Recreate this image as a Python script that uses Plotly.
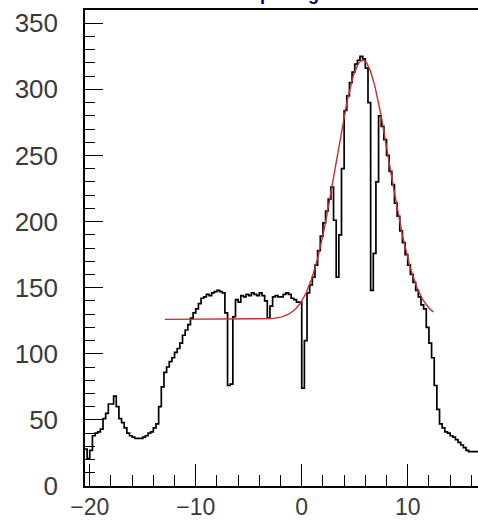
import numpy as np
import plotly.graph_objects as go

# Histogram: fixed-width bins starting at the low edge
bin_low = -20.5
bin_width = 0.25
counts = [
    28, 21, 27, 38, 40, 41, 43, 51, 55, 62,
    62, 68, 60, 51, 48, 44, 40, 38, 37, 36,
    36, 36, 37, 38, 40, 41, 44, 47, 60, 75,
    86, 90, 94, 97, 101, 104, 108, 114, 118, 122,
    127, 131, 134, 138, 142, 143, 145, 144, 146, 147,
    148, 147, 146, 131, 76, 77, 128, 141, 139, 144,
    143, 145, 144, 146, 145, 144, 146, 144, 140, 127,
    136, 143, 144, 143, 143, 145, 146, 145, 142, 141,
    139, 139, 74, 110, 146, 152, 158, 167, 178, 189,
    199, 208, 217, 226, 201, 158, 190, 240, 284, 295,
    305, 313, 319, 322, 325, 323, 316, 290, 148, 176,
    230, 280, 272, 262, 250, 238, 228, 214, 204, 193,
    184, 175, 167, 160, 154, 148, 143, 137, 134, 120,
    108, 97, 76, 58, 47, 44, 41, 40, 38, 37,
    35, 33, 31, 29, 27, 26, 26, 26, 26,
]

# Fit: gaus + pol0
fit_const = 126.0
fit_amp = 196.0
fit_mean = 5.75
fit_sigma = 2.5
fit_range = (-12.9, 12.4)

title_text = "Input signal"

edges = [bin_low + bin_width * i for i in range(len(counts) + 1)]
step_y = counts + [counts[-1]]

fx = np.linspace(fit_range[0], fit_range[1], 400)
fy = fit_const + fit_amp * np.exp(-0.5 * ((fx - fit_mean) / fit_sigma) ** 2)

fig = go.Figure()
fig.add_trace(go.Scatter(
    x=edges, y=step_y, mode="lines", line_shape="hv",
    line=dict(color="black", width=1.7), showlegend=False, hoverinfo="skip",
))
fig.add_trace(go.Scatter(
    x=fx, y=fy, mode="lines",
    line=dict(color="#c03030", width=1.4), showlegend=False, hoverinfo="skip",
))

y_tick_font = dict(family="Liberation Sans", size=26, color="#3a3a3a")
x_tick_font = dict(family="Liberation Sans", size=23, color="#3a3a3a")

fig.update_layout(
    width=478, height=520,
    margin=dict(l=85, r=0, t=10, b=34),
    paper_bgcolor="white", plot_bgcolor="white",
    showlegend=False,
    annotations=[dict(
        text=title_text, xref="paper", yref="paper", x=0.534, y=1,
        xanchor="center", yanchor="bottom", yshift=4, showarrow=False,
        font=dict(family="Liberation Sans", size=18, color="#00007a", weight="bold"),
    )],
)
fig.update_xaxes(
    range=[-20.45, 16.63], showgrid=False, zeroline=False,
    showline=True, linecolor="black", linewidth=1.5, mirror=True,
    ticks="inside", ticklen=22, tickwidth=1.3, tickcolor="black",
    tickmode="linear", tick0=-20, dtick=10,
    minor=dict(ticks="inside", ticklen=11, tickwidth=1.3, tickcolor="black",
               tickmode="linear", tick0=-20, dtick=2),
    tickfont=x_tick_font, ticklabelstandoff=0, automargin=False,
)
fig.update_yaxes(
    range=[0, 360], showgrid=False, zeroline=False,
    showline=True, linecolor="black", linewidth=1.5, mirror=False,
    ticks="inside", ticklen=18, tickwidth=1.3, tickcolor="black",
    tickmode="linear", tick0=0, dtick=50,
    minor=dict(ticks="inside", ticklen=10, tickwidth=1.3, tickcolor="black",
               tickmode="linear", tick0=0, dtick=10),
    tickfont=y_tick_font, ticklabelstandoff=20, automargin=False,
)

fig.write_html("out.html")
